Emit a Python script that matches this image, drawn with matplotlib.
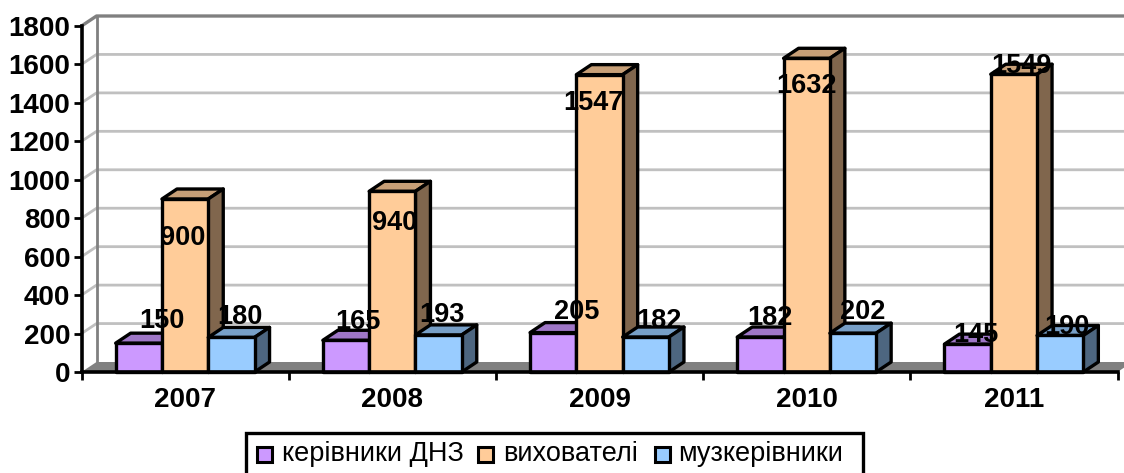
import matplotlib
matplotlib.use('Agg')
import matplotlib.pyplot as plt
from matplotlib.colors import to_rgb
from matplotlib.patches import Polygon, Rectangle

plt.rcParams['font.family'] = ['Liberation Sans', 'DejaVu Sans']

years = ['2007', '2008', '2009', '2010', '2011']
kerivnyky = [150, 165, 205, 182, 145]
vykhovateli = [900, 940, 1547, 1632, 1549]
muzkerivnyky = [180, 193, 182, 202, 190]
names = ['керівники ДНЗ', 'вихователі', 'музкерівники']
colors = ['#CC99FF', '#FFCC99', '#99CCFF']

# зсуви підписів у пікселях від верху стовпчика, вручну
shift_k = [(23, 22), (12, 18), (23, 21), (10, 19), (8, 9)]
shift_v = [(-2, -39), (2, -32), (-6, -28), (0, -28), (8, 8)]
shift_m = [(9, 20), (3, 20), (13, 16), (10, 21), (7, 8)]

W, H = 1124, 473
fig = plt.figure(figsize=(W / 100, H / 100), dpi=100)
ax = fig.add_axes([81.5 / W, 1 - 372 / H, 1036 / W, 346 / H])
ax.set_xlim(-0.5, 4.5)
ax.set_ylim(0, 1800)

# глибина 3d в одиницях осей
dx = 15 / 207.2
dy = 10 * 1800 / 346
bar_w = 46.3 / 207.2


def shade(c, k):
    return tuple(v * k for v in to_rgb(c))


# задня стінка і сітка
ax.add_patch(Polygon([(-0.5, 0), (-0.5 + dx, dy), (4.5 + dx, dy), (4.5, 0)],
                     fc='#808080', ec='none', clip_on=False, zorder=1))
for t in range(200, 1800, 200):
    ax.plot([-0.5, -0.5 + dx, 4.5 + dx], [t, t + dy, t + dy], color='#C0C0C0',
            lw=2.0, clip_on=False, zorder=1)
ax.plot([-0.5 + dx, -0.5 + dx], [dy, 1800 + dy], color='#808080', lw=2.0, clip_on=False, zorder=1.5)
ax.plot([-0.5, -0.5 + dx, 4.5 + dx], [1800, 1800 + dy, 1800 + dy], color='#808080',
        lw=2.4, clip_on=False, zorder=1.5)


def bar3d(x, v, c, z):
    l, r = x - bar_w / 2, x + bar_w / 2
    style = dict(ec='black', lw=2.4, joinstyle='round', clip_on=False, zorder=z)
    ax.add_patch(Polygon([(l, v), (l + dx, v + dy), (r + dx, v + dy), (r, v)], fc=shade(c, 0.78), **style))
    ax.add_patch(Polygon([(r, 0), (r + dx, dy), (r + dx, v + dy), (r, v)], fc=shade(c, 0.5), **style))
    ax.add_patch(Rectangle((l, 0), bar_w, v, fc=c, **style))


series = [kerivnyky, vykhovateli, muzkerivnyky]
shifts = [shift_k, shift_v, shift_m]
for i in range(len(years)):
    for j in range(3):
        bar3d(i + (j - 1) * bar_w, series[j][i], colors[j], 2 + i + j * 0.1)
for i in range(len(years)):
    for j in range(3):
        ax.annotate(str(series[j][i]), (i + (j - 1) * bar_w, series[j][i]),
                    xytext=shifts[j][i], textcoords='offset pixels', ha='center', va='center',
                    fontsize=19.5, fontweight='bold', color='black', zorder=20, annotation_clip=False)

# осі
for s in ['top', 'right']:
    ax.spines[s].set_visible(False)
for s in ['left', 'bottom']:
    ax.spines[s].set_linewidth(2.6)
    ax.spines[s].set_zorder(10)
ax.patch.set_visible(False)
ax.set_yticks(range(0, 1801, 200))
ax.set_xticks([i - 0.5 for i in range(6)])
ax.set_xticklabels([])
ax.set_xticks(range(5), years, minor=True)
ax.tick_params(axis='x', which='major', length=6, width=2.0, color='black')
ax.tick_params(axis='x', which='minor', length=0, pad=11, labelsize=20)
ax.tick_params(axis='y', length=6, width=2.0, pad=2, labelsize=20)
for lab in ax.get_xticklabels(minor=True) + ax.get_yticklabels():
    lab.set_fontweight('bold')

# легенда
fig.add_artist(Rectangle((246 / W, -0.02), 617 / W, 1 - 433 / H + 0.02, transform=fig.transFigure,
                         fc='white', ec='black', lw=2.4))
box_x = [257, 478, 655]
text_x = [282, 503, 678]
for n, c, bx, tx in zip(names, colors, box_x, text_x):
    fig.add_artist(Rectangle((bx / W, 1 - 462 / H), 15 / W, 15 / H, transform=fig.transFigure,
                             fc=c, ec='black', lw=2.2))
    fig.text(tx / W, 1 - 454 / H, n, fontsize=19.5, ha='left', va='center', color='black')

fig.savefig('out.png', dpi=100)
